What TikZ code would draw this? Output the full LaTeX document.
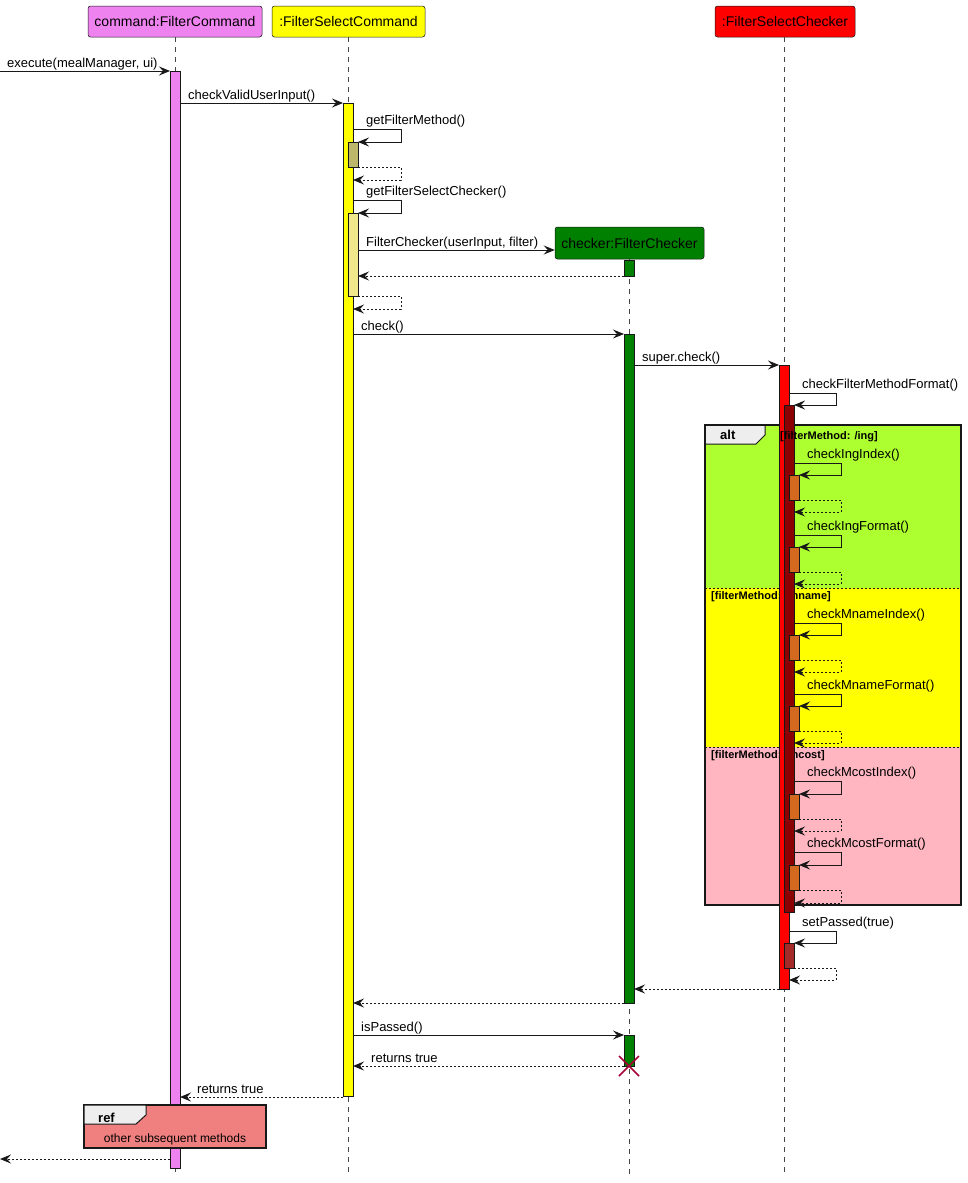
\documentclass[tikz,border=0pt]{standalone}
\usepackage{fontspec}
\setmainfont{Liberation Sans}
\usetikzlibrary{arrows.meta}
\definecolor{c18}{HTML}{181818}
\definecolor{cViolet}{HTML}{EE82EE}
\definecolor{cYellow}{HTML}{FFFF00}
\definecolor{cGreen}{HTML}{008000}
\definecolor{cRed}{HTML}{FF0000}
\definecolor{cDarkKhaki}{HTML}{BDB76B}
\definecolor{cKhaki}{HTML}{F0E68C}
\definecolor{cDarkRed}{HTML}{8B0000}
\definecolor{cChoc}{HTML}{D2691E}
\definecolor{cBrown}{HTML}{A52A2A}
\definecolor{cGreenYellow}{HTML}{ADFF2F}
\definecolor{cPink}{HTML}{FFB6C1}
\definecolor{cCoral}{HTML}{F08080}
\definecolor{cTab}{HTML}{EEEEEE}
\definecolor{cCross}{HTML}{A80036}
\newcommand\fsz[1]{\fontsize{#1}{#1}\selectfont}
\newcommand\msgline[7]{%
  \coordinate (#1-s) at (#2,#4);
  \coordinate (#1-e) at (#3,#4);
  \draw[#7] (#1-s) -- (#1-e);
  \node[lbl] (#1-l) at (#6,#4-4) {#5};}
\newcommand\selfline[7]{%
  \coordinate (#1-s) at (#2,#3);
  \coordinate (#1-e) at (#6,#5);
  \draw[msg] (#1-s) -- (#4,#3) -- (#4,#5) -- (#1-e);
  \node[lbl] (#1-l) at (#2+13,#3-5) {#7};}
\newcommand\selfret[6]{%
  \coordinate (#1-s) at (#2,#3);
  \coordinate (#1-e) at (#6,#5);
  \draw[ret] (#1-s) -- (#4,#3) -- (#4,#5) -- (#1-e);}
\tikzset{
  lifeline/.style={draw=c18!80, line width=0.6pt, dash pattern=on 5pt off 5pt},
  msg/.style={draw=c18, line width=1pt, -{Stealth[length=11pt,width=9pt,inset=4pt]}},
  ret/.style={msg, dash pattern=on 2pt off 2pt},
  actbar/.style={draw=c18, line width=1pt},
  lbl/.style={font=\fsz{13}, anchor=base west, inner sep=0pt, text=black},
  part/.style={draw=c18, line width=0.5pt, rounded corners=2.5pt, font=\fsz{14}, minimum height=31pt, inner sep=0pt},
  guard/.style={font=\bfseries\fsz{11}, anchor=base west, inner sep=0pt},
  tabtxt/.style={font=\bfseries\fsz{13}, anchor=base west, inner sep=0pt},
}
\begin{document}
\begin{tikzpicture}[x=1pt,y=-1pt]
\useasboundingbox (0,0) rectangle (967,1183);
\fill[white] (0,0) rectangle (967,1183);
% participants
\node[part, fill=cViolet, minimum width=174pt] (cmd) at (175,21.5) {command:FilterCommand};
\node[part, fill=cYellow, minimum width=153pt] (fsc) at (348.5,21.5) {:FilterSelectCommand};
\node[part, fill=cRed, minimum width=140pt] (fsk) at (785,21.5) {:FilterSelectChecker};
\node[part, fill=cGreen, minimum width=149pt, minimum height=32pt] (chk) at (629.5,243) {checker:FilterChecker};
% lifelines
\coordinate (cmdEnd) at (175,1175);
\coordinate (fscEnd) at (348,1175);
\coordinate (chkEnd) at (629,1175);
\coordinate (fskEnd) at (784,1175);
\draw[lifeline] (175,37) -- (cmdEnd);
\draw[lifeline] (348,37) -- (fscEnd);
\draw[lifeline] (629,259) -- (chkEnd);
\draw[lifeline] (784,37) -- (fskEnd);
% alt frame
\fill[cGreenYellow] (705,425) rectangle (961,588);
\fill[cYellow] (705,588) rectangle (961,747);
\fill[cPink] (705,747) rectangle (961,905);
\draw[c18, line width=0.8pt, dash pattern=on 2pt off 2pt] (705,588) -- (961,588);
\draw[c18, line width=0.8pt, dash pattern=on 2pt off 2pt] (705,747) -- (961,747);
\draw[fill=cTab, draw=c18, line width=1pt] (705,425) -- (765,425) -- (765,435) -- (756,444) -- (705,444) -- cycle;
\draw[c18, line width=1.5pt] (705,425) rectangle (961,905);
\node[tabtxt] (altlbl) at (720,439) {alt};
\node[guard] (g2) at (711,599) {[filterMethod: /mname]};
\node[guard] (g3) at (711,758) {[filterMethod: /mcost]};
% activations
\filldraw[actbar, fill=cViolet] (170,71) rectangle (180,1168);
\filldraw[actbar, fill=cYellow] (343,103) rectangle (353,1096);
\filldraw[actbar, fill=cDarkKhaki] (348,142) rectangle (358,167);
\filldraw[actbar, fill=cKhaki] (348,213) rectangle (358,296);
\filldraw[actbar, fill=cGreen] (624,260) rectangle (634,276);
\filldraw[actbar, fill=cGreen] (624,334) rectangle (634,1003);
\filldraw[actbar, fill=cGreen] (624,1035) rectangle (634,1066);
\filldraw[actbar, fill=cRed] (779,365) rectangle (789,989);
\filldraw[actbar, fill=cDarkRed] (784,405) rectangle (794,912);
\foreach \a/\b in {475/500, 547/572, 635/660, 706/731, 794/819, 865/890}
  \filldraw[actbar, fill=cChoc] (789,\a) rectangle (799,\b);
\filldraw[actbar, fill=cBrown] (784,943) rectangle (794,968);
\node[guard] (g1) at (780,439) {[filterMethod: /ing]};
% messages
\msgline{m1}{0}{170}{71}{execute(mealManager, ui)}{7}{msg}
\msgline{m2}{180}{343}{103}{checkValidUserInput()}{188}{msg}
\selfline{m3}{353}{129}{401}{142}{358}{getFilterMethod()}
\selfret{m3r}{358}{167}{401}{180}{353}
\selfline{m4}{353}{200}{401}{213}{358}{getFilterSelectChecker()}
\coordinate (m5-s) at (358,250);
\draw[msg] (m5-s) -- (chk.west |- m5-s);
\node[lbl] (m5-l) at (366,246) {FilterChecker(userInput, filter)};
\msgline{m6}{624}{358}{276}{}{0}{ret}
\selfret{m4r}{358}{296}{401}{309}{353}
\msgline{m7}{353}{624}{334}{check()}{361}{msg}
\msgline{m8}{634}{779}{365}{super.check()}{642}{msg}
\selfline{m9}{789}{393}{836}{405}{794}{checkFilterMethodFormat()}
\selfline{s1}{794}{463}{841}{475}{799}{checkIngIndex()}
\selfret{s1r}{799}{500}{841}{512}{794}
\selfline{s2}{794}{535}{841}{547}{799}{checkIngFormat()}
\selfret{s2r}{799}{572}{841}{584}{794}
\selfline{s3}{794}{623}{841}{635}{799}{checkMnameIndex()}
\selfret{s3r}{799}{660}{841}{672}{794}
\selfline{s4}{794}{694}{841}{706}{799}{checkMnameFormat()}
\selfret{s4r}{799}{731}{841}{743}{794}
\selfline{s5}{794}{781}{841}{794}{799}{checkMcostIndex()}
\selfret{s5r}{799}{819}{841}{831}{794}
\selfline{s6}{794}{852}{841}{865}{799}{checkMcostFormat()}
\selfret{s6r}{799}{890}{841}{903}{794}
\selfline{s7}{789}{931}{836}{943}{794}{setPassed(true)}
\selfret{s7r}{794}{968}{836}{980}{789}
\msgline{m10}{779}{634}{989}{}{0}{ret}
\msgline{m11}{624}{353}{1003}{}{0}{ret}
\msgline{m12}{353}{624}{1035}{isPassed()}{361}{msg}
\msgline{m13}{624}{353}{1066}{returns true}{371}{ret}
\msgline{m14}{343}{180}{1097}{returns true}{197}{ret}
% destroy
\draw[cCross, line width=1.5pt] (619,1056) -- (639,1076) (619,1076) -- (639,1056);
% ref
\draw[fill=cCoral, draw=c18, line width=1.5pt] (84,1105) rectangle (266,1148);
\draw[fill=cTab, draw=c18, line width=1pt] (84,1105) -- (146,1105) -- (146,1115) -- (136,1124) -- (84,1124) -- cycle;
\node[tabtxt] (reflbl) at (98,1122) {ref};
\node[font=\fsz{12}, anchor=base, inner sep=0pt] (reftxt) at (175,1142) {other subsequent methods};
\msgline{m15}{170}{0}{1159}{}{0}{ret}
\end{tikzpicture}
\end{document}
